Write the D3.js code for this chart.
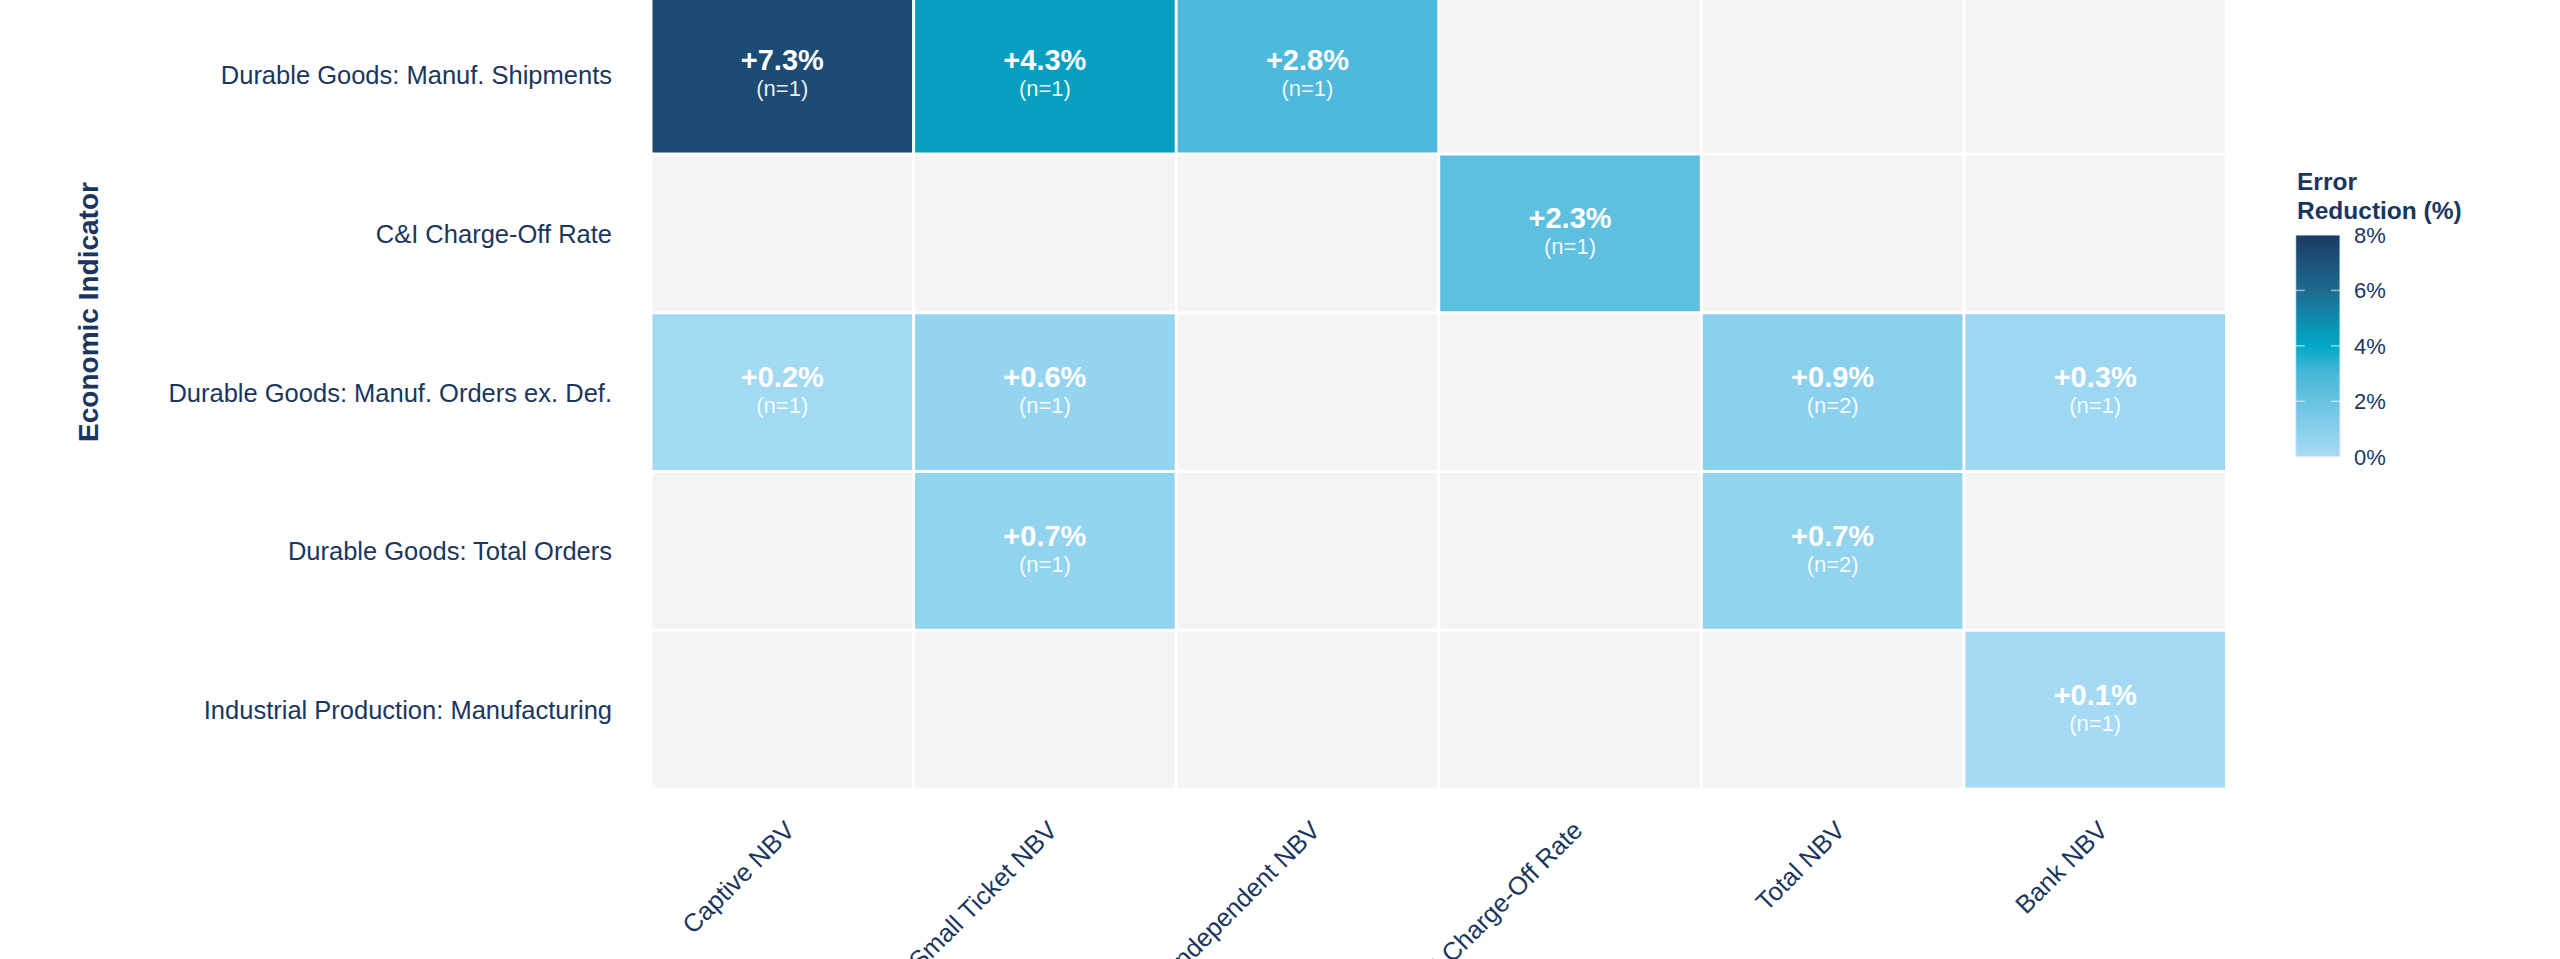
<!DOCTYPE html>
<html>
<head>
<meta charset="utf-8">
<script src="https://cdn.jsdelivr.net/npm/d3@7"></script>
<style>
  html, body { margin: 0; padding: 0; background: #fff; overflow: hidden; }
  svg { display: block; font-family: "Liberation Sans", Arial, Helvetica, sans-serif; }
</style>
</head>
<body>
<svg id="chart" width="2560" height="959"></svg>
<script>
const indicators = [
    "Durable Goods: Manuf. Shipments",
    "C&I Charge-Off Rate",
    "Durable Goods: Manuf. Orders ex. Def.",
    "Durable Goods: Total Orders",
    "Industrial Production: Manufacturing"
];
const targets = ["Captive NBV", "Small Ticket NBV", "Independent NBV", "C&I Charge-Off Rate", "Total NBV", "Bank NBV"];

// one entry per filled cell: [indicator index, target index, error reduction %, n]
const cellRow = [0, 0, 0, 1, 2, 2, 2, 2, 3, 3, 4];
const cellCol = [0, 1, 2, 3, 0, 1, 4, 5, 1, 4, 5];
const cellVal = [7.3, 4.3, 2.8, 2.3, 0.2, 0.6, 0.9, 0.3, 0.7, 0.7, 0.1];
const cellN = [1, 1, 1, 1, 1, 1, 2, 1, 1, 2, 1];

const legendTicks = [0, 2, 4, 6, 8];
const colorStops = [0, 3, 4, 6, 8];
const colorHex = ["#a8dbf5", "#48b7d8", "#02a8c8", "#1e6b8f", "#1b3a64"];

const NAVY = "#1b365d";
const EMPTY_COR = "#f4f4f4";
const GAP = 3;
const LABEL_SIZE = 25.5;

const svg = d3.select("#chart");
const g = svg.append("g");

const x = d3.scaleBand().domain(targets).range([651, 2226.5]);
const y = d3.scaleBand().domain(indicators).range([-4.75, 789]);
const color = d3.scaleLinear().domain(colorStops).range(colorHex).clamp(true);

function draw_background() {
    indicators.forEach(r => {
        targets.forEach(c => {
            g.append("rect")
                .attr("x", x(c) + GAP / 2)
                .attr("y", y(r) + GAP / 2)
                .attr("width", x.bandwidth() - GAP)
                .attr("height", y.bandwidth() - GAP)
                .attr("fill", EMPTY_COR);
        });
    });
}

function draw_cells() {
    cellVal.forEach((v, i) => {
        let r = indicators[cellRow[i]];
        let c = targets[cellCol[i]];
        let cx = x(c) + x.bandwidth() / 2;
        let cy = y(r) + y.bandwidth() / 2;
        g.append("rect")
            .attr("x", x(c) + GAP / 2)
            .attr("y", y(r) + GAP / 2)
            .attr("width", x.bandwidth() - GAP)
            .attr("height", y.bandwidth() - GAP)
            .attr("fill", color(v));
        g.append("text")
            .text("+" + v.toFixed(1) + "%")
            .attr("x", cx)
            .attr("y", cy - 5)
            .attr("text-anchor", "middle")
            .attr("font-size", 29)
            .attr("font-weight", "bold")
            .attr("fill", "#fff");
        g.append("text")
            .text("(n=" + cellN[i] + ")")
            .attr("x", cx)
            .attr("y", cy + 21)
            .attr("text-anchor", "middle")
            .attr("font-size", 22)
            .attr("fill", "#fff")
            .attr("fill-opacity", 0.92);
    });
}

function draw_axes() {
    indicators.forEach(r => {
        g.append("text")
            .text(r)
            .attr("x", 612)
            .attr("y", y(r) + y.bandwidth() / 2 + 9.5)
            .attr("text-anchor", "end")
            .attr("font-size", LABEL_SIZE)
            .attr("fill", NAVY);
    });
    targets.forEach(c => {
        let px = x(c) + x.bandwidth() / 2 + 14;
        let py = 832;
        g.append("text")
            .text(c)
            .attr("transform", `translate(${px},${py}) rotate(-45)`)
            .attr("text-anchor", "end")
            .attr("font-size", LABEL_SIZE)
            .attr("fill", NAVY);
    });
    g.append("text")
        .text("Economic Indicator")
        .attr("transform", "translate(98,312) rotate(-90)")
        .attr("text-anchor", "middle")
        .attr("font-size", 28)
        .attr("font-weight", "bold")
        .attr("fill", NAVY);
}

function draw_legend() {
    const top = 235, bottom = 456.7, left = 2295.7, w = 44.3;
    const ly = d3.scaleLinear().domain([0, 8]).range([bottom, top]);

    const grad = svg.append("defs").append("linearGradient")
        .attr("id", "cbar")
        .attr("x1", 0).attr("y1", 1)
        .attr("x2", 0).attr("y2", 0);
    colorStops.forEach((s, i) => {
        grad.append("stop")
            .attr("offset", s / 8)
            .attr("stop-color", colorHex[i]);
    });

    g.append("rect")
        .attr("x", left)
        .attr("y", top)
        .attr("width", w)
        .attr("height", bottom - top)
        .attr("fill", "url(#cbar)")
        .attr("stroke", "#e4eef4")
        .attr("stroke-width", 1);

    legendTicks.forEach(t => {
        let ty = ly(t);
        if (t > 0 && t < 8) {
            g.append("line")
                .attr("x1", left).attr("x2", left + 9)
                .attr("y1", ty).attr("y2", ty)
                .attr("stroke", "rgba(255,255,255,0.55)")
                .attr("stroke-width", 1.5);
            g.append("line")
                .attr("x1", left + w - 9).attr("x2", left + w)
                .attr("y1", ty).attr("y2", ty)
                .attr("stroke", "rgba(255,255,255,0.55)")
                .attr("stroke-width", 1.5);
        }
        g.append("text")
            .text(t + "%")
            .attr("x", 2354)
            .attr("y", ty)
            .attr("dy", "0.36em")
            .attr("font-size", 22)
            .attr("fill", NAVY);
    });

    ["Error", "Reduction (%)"].forEach((line, i) => {
        g.append("text")
            .text(line)
            .attr("x", 2297)
            .attr("y", 190 + i * 28.5)
            .attr("font-size", 24.5)
            .attr("font-weight", "bold")
            .attr("fill", NAVY);
    });
}

draw_background();
draw_cells();
draw_axes();
draw_legend();
</script>
</body>
</html>
